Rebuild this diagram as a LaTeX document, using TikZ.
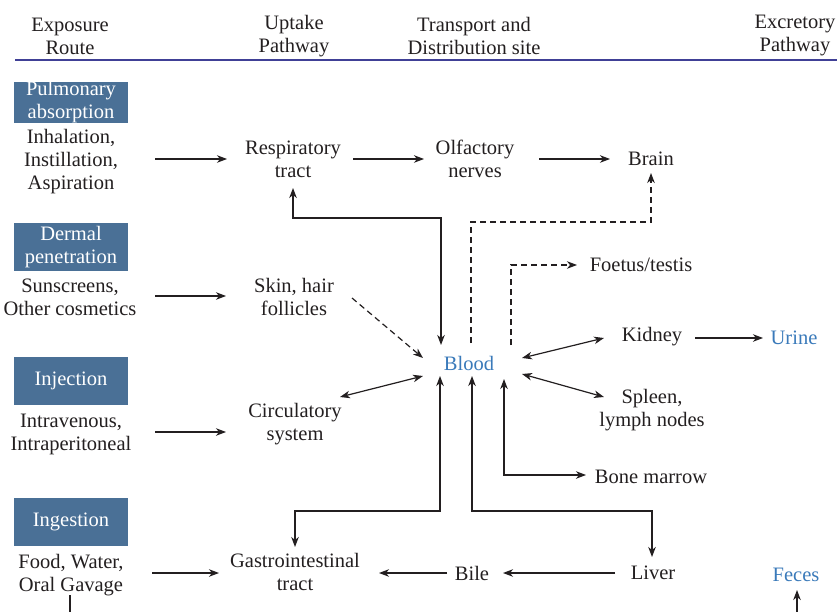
\documentclass[tikz,border=0pt]{standalone}
\usepackage{fontspec}
\setmainfont{Liberation Serif}
\usetikzlibrary{arrows.meta,calc}
\definecolor{routeblue}{RGB}{74,112,150}
\definecolor{fluidblue}{RGB}{58,122,186}
\definecolor{ink}{RGB}{35,31,32}
\definecolor{rulenavy}{RGB}{64,64,150}

\begin{document}
\begin{tikzpicture}[x=1pt, y=-1pt,
  every node/.style={font=\rmfamily\fontsize{20.5}{23}\selectfont, text=ink, align=center, inner sep=1pt},
  route/.style={fill=routeblue, text=white, minimum width=114pt, minimum height=48pt},
  fluid/.style={text=fluidblue},
  >={Stealth[length=10pt, width=7.5pt, inset=3pt]},
  arr/.style={->, line width=1.2pt, draw=ink},
  dbl/.style={<->, line width=1.2pt, draw=ink},
  dsh/.style={arr, dash pattern=on 6pt off 4pt}
]
  \fill[white] (0,0) rectangle (837,612);
  \useasboundingbox (0,0) rectangle (837,612);

  % column heads
  \node (hexp) at (70,36) {Exposure\\Route};
  \node (hup) at (294,36) {Uptake\\Pathway};
  \node (htr) at (474,36) {Transport and\\Distribution site};
  \node (hexc) at (795,36) {Excretory\\Pathway};
  \draw[rulenavy, line width=1.6pt] (15,60) -- (837,60);

  % exposure routes
  \node[route, minimum height=40pt, inner sep=0pt] (pulm) at (71,102.5) {Pulmonary\\absorption};
  \node[route] (derm) at (71,247) {Dermal\\penetration};
  \node[route] (inj) at (71,381) {Injection};
  \node[route] (ing) at (71,522) {Ingestion};

  \node (inh) at (71,162) {Inhalation,\\Instillation,\\Aspiration};
  \node (sun) at (70,297) {Sunscreens,\\Other cosmetics};
  \node (intra) at (71,434) {Intravenous,\\Intraperitoneal};
  \node (food) at (71,575) {Food, Water,\\Oral Gavage};

  % uptake pathways
  \node (resp) at (293,159) {Respiratory\\tract};
  \node (skin) at (294,297) {Skin, hair\\follicles};
  \node (circ) at (295,424) {Circulatory\\system};
  \node (gi) at (295,572) {Gastrointestinal\\tract};

  % transport and distribution
  \node (olf) at (475,159) {Olfactory\\nerves};
  \node (brain) at (651,159) {Brain};
  \node[fluid] (blood) at (469,363) {Blood};
  \node (foetus) at (641,265) {Foetus/testis};
  \node (kidney) at (652,337) {Kidney};
  \node (spleen) at (652,410) {Spleen,\\lymph nodes};
  \node (bone) at (651,477) {Bone marrow};
  \node (bile) at (472,573) {Bile};
  \node (liver) at (653,573) {Liver};

  % excretion
  \node[fluid] (urine) at (794,338) {Urine};
  \node[fluid] (feces) at (796,575) {Feces};

  % uptake
  \draw[arr] ($(inh)+(84,-3)$) -- ($(resp)+(-66,0)$);
  \draw[arr] ($(resp)+(60,0)$) -- ($(olf)+(-51,0)$);
  \draw[arr] ($(olf)+(64,0)$) -- ($(brain)+(-41,0)$);
  \draw[arr] ($(sun)+(85,-1)$) -- ($(skin)+(-68,-1)$);
  \draw[arr] ($(intra)+(84,-2)$) -- ($(circ)+(-69,8)$);
  \draw[arr] ($(food)+(81,-2)$) -- ($(gi)+(-76,1)$);
  \draw[dsh] ($(skin)+(58,1)$) -- ($(blood)+(-46,-5)$);
  \draw[dbl] ($(circ)+(45,-27)$) -- ($(blood)+(-46,13)$);

  % distribution from blood
  \draw[dbl] ($(blood)+(-28,-18)$) -- ++(0,-127) -| ($(resp)+(0,29)$);
  \draw[dsh] ($(blood)+(2,-20)$) -- ++(0,-121) -| ($(brain)+(0,14)$);
  \draw[dsh] ($(blood)+(42,-18)$) |- ($(foetus)+(-64,0)$);
  \draw[dbl] ($(blood)+(53,-5)$) -- ($(kidney)+(-48,1)$);
  \draw[dbl] ($(blood)+(53,11)$) -- ($(spleen)+(-48,-13)$);
  \draw[dbl] ($(blood)+(35,16)$) |- ($(bone)+(-65,-2)$);
  \draw[dbl] ($(blood)+(-29,13)$) -- ++(0,135) -| ($(gi)+(0,-25)$);
  \draw[dbl] ($(blood)+(3,13)$) -- ++(0,135) -| ($(liver)+(-1,-16)$);

  % excretion
  \draw[arr] ($(kidney)+(43,1)$) -- ($(urine)+(-31,0)$);
  \draw[arr] ($(liver)+(-38,0)$) -- ($(bile)+(31,0)$);
  \draw[arr] ($(bile)+(-25,0)$) -- ($(gi)+(84,1)$);
  \draw[line width=1.2pt, draw=ink] ($(food)+(-1,20)$) -- ++(0,30);
  \draw[arr] ($(feces)+(1,45)$) -- ($(feces)+(1,15)$);
\end{tikzpicture}
\end{document}
